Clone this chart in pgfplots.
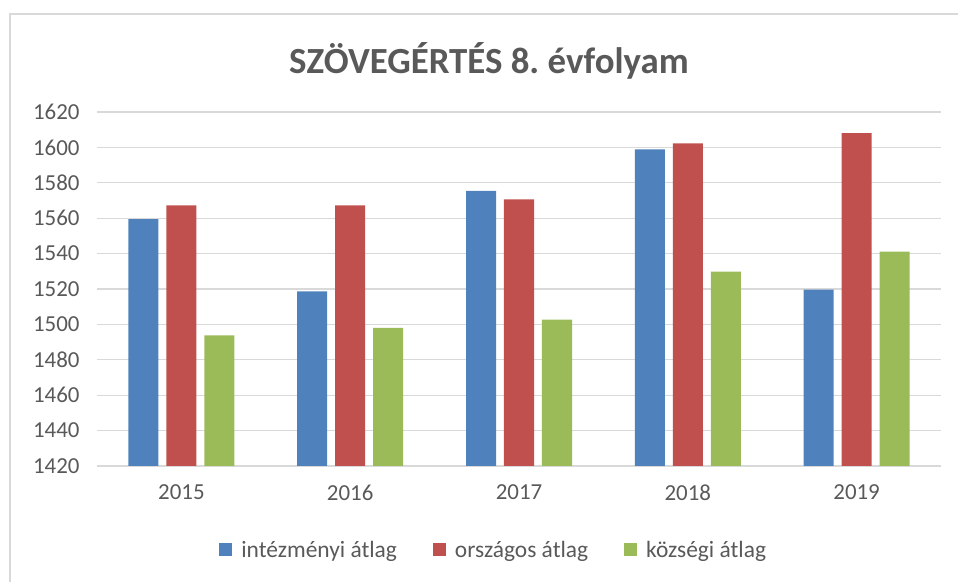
\documentclass[border=0pt]{standalone}
\usepackage{pgfplots}
\pgfplotsset{compat=1.18}
\usepackage{fontspec}
\setmainfont{Carlito}
\definecolor{cblue}{HTML}{4F81BD}
\definecolor{cred}{HTML}{C0504D}
\definecolor{cgreen}{HTML}{9BBB59}
\definecolor{tgray}{HTML}{595959}
\definecolor{ggray}{HTML}{D9D9D9}
\begin{document}
\begin{tikzpicture}[x=1bp,y=1bp]
\path[use as bounding box] (0,0) rectangle (958,582);
\draw[color=ggray, line width=1.2bp] (10,-5) rectangle (975,568);
\node[font=\bfseries\fontsize{37}{42}\selectfont, text=tgray] at (489,521) {SZÖVEGÉRTÉS 8.\ évfolyam};
\begin{axis}[
  at={(97bp,116bp)}, anchor=south west, scale only axis,
  width=844bp, height=354bp,
  ymin=1420, ymax=1620, ytick={1420,1440,...,1620},
  xmin=-0.5, xmax=4.5, xtick={0,1,2,3,4},
  xticklabels={2015,2016,2017,2018,2019},
  /pgf/number format/assume math mode=true,
  /pgf/number format/1000 sep={},
  ybar, bar width=0.178,
  ymajorgrids, major grid style={color=ggray, line width=1.3bp},
  axis line style={draw=none}, tick style={draw=none},
  yticklabel style={font=\fontsize{23}{26}\selectfont, text=tgray, xshift=-14bp},
  xticklabel style={font=\fontsize{23}{26}\selectfont, text=tgray, yshift=-11bp},
  legend style={at={(0.470,-0.237)}, anchor=center, draw=none, fill=none,
    legend columns=3, font=\fontsize{23.5}{26}\selectfont, text=tgray,
    /tikz/every even column/.append style={column sep=34bp}},
  legend image code/.code={\fill[#1] (0bp,-6.5bp) rectangle (13bp,6.5bp); \path (20bp,0bp);},
]
\addplot[fill=cblue, draw=none, bar shift=-0.225] coordinates {(0,1559.5) (1,1518.7) (2,1575.4) (3,1598.9) (4,1519.6)};
\addplot[fill=cred, draw=none, bar shift=0] coordinates {(0,1567.3) (1,1567.3) (2,1570.7) (3,1602.3) (4,1608.0)};
\addplot[fill=cgreen, draw=none, bar shift=0.225] coordinates {(0,1493.8) (1,1498.1) (2,1502.7) (3,1529.8) (4,1541.1)};
\legend{intézményi átlag, országos átlag, községi átlag}
\end{axis}
\end{tikzpicture}
\end{document}
